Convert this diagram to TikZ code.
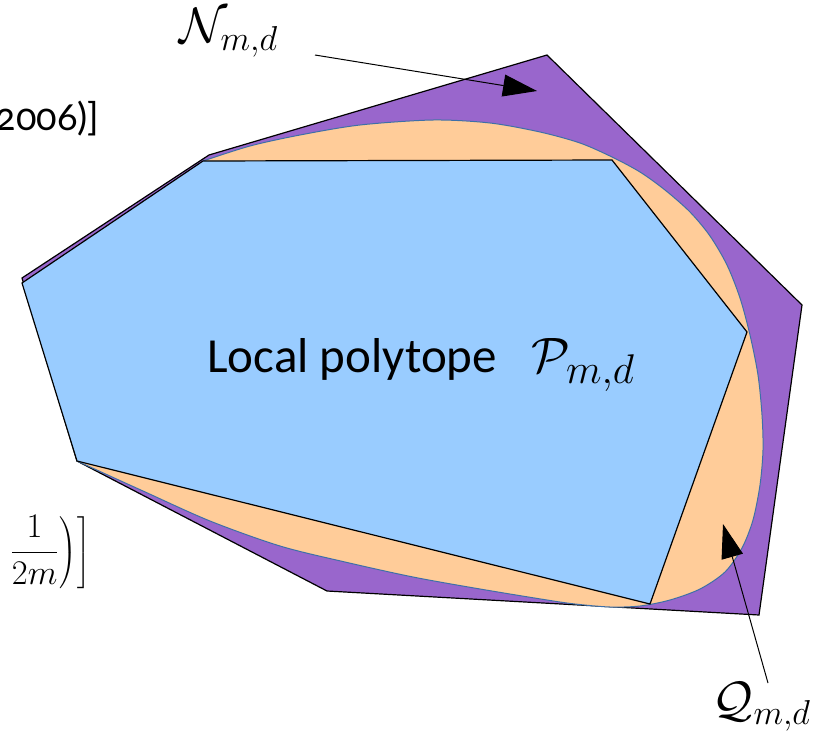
\documentclass[tikz,border=0pt]{standalone}
\usepackage[no-math]{fontspec}
\setmainfont{Carlito}
\newfontfamily\citefont[Numbers=OldStyle]{Lato}
\usetikzlibrary{arrows.meta}
\definecolor{outerFill}{HTML}{9966CC}
\definecolor{curveFill}{HTML}{FFCC99}
\definecolor{curveStroke}{HTML}{3E6FA8}
\definecolor{innerFill}{HTML}{99CCFF}

\begin{document}
\begin{tikzpicture}[
    x=0.5pt, y=-0.5pt,
    >={Triangle[length=17pt,width=11pt]},
    outerRegion/.style={fill=outerFill, draw=black, line width=0.6pt},
    curveRegion/.style={fill=curveFill, draw=curveStroke, line width=0.5pt},
    innerRegion/.style={fill=innerFill, draw=black, line width=0.6pt},
    setLabel/.style={inner sep=0pt, font=\fontsize{24}{28}\selectfont},
    mainLabel/.style={inner sep=0pt, font=\fontsize{24.5}{28}\selectfont},
    citeText/.style={inner sep=0pt, font=\fontsize{19}{23}\selectfont},
    pointer/.style={->, line width=0.5pt}
]
\useasboundingbox (0,0) rectangle (831,734);
\clip (0,0) rectangle (831,734);

% outer region, smooth set, local polytope
\draw[outerRegion] (547,55) -- (802,305) -- (759,615) -- (327,591)
  -- (77,461) -- (22,278) -- (209,155) -- cycle;
\draw[curveRegion] plot[smooth, tension=0.5] coordinates {
  (203,161) (250,146) (300,135) (360,125) (433,120) (490,123)
  (540,132) (580,143) (612,157) (640,172) (665,190) (690,212)
  (710,236) (727,265) (740,298) (750,335) (758,375) (762,415)
  (763,450) (760,485) (753,520) (742,548) (725,572) (700,589)
  (670,600) (640,606) (610,607) (575,604) (547,600) (480,589)
  (413,577) (345,562) (280,546) (210,521) (143,491) (77,461)} -- cycle;
\draw[innerRegion] (22,283) -- (203,161) -- (612,160) -- (747,332)
  -- (650,604) -- (77,461) -- cycle;

\node[mainLabel, anchor=base west] (PLabel) at (207,372)
  {Local polytope\hspace{0.7em}{\fontsize{29}{34}\selectfont$\mathcal{P}_{m,d}$}};
\node[setLabel] (NLabel) at (229,33) {$\mathcal{N}_{m,d}$};
\node[setLabel, font=\fontsize{26}{30}\selectfont] (QLabel) at (762,707) {$\mathcal{Q}_{m,d}$};
\node[citeText, anchor=base east] (CiteTop) at (100,130)
  {\citefont 2006)]};
\node[citeText, anchor=base east, font=\fontsize{18}{22}\selectfont] (CiteLow) at (91,561)
  {$\displaystyle\left.\left.\frac{1}{2m}\right)\right]$};

\coordinate (NTail) at (315,55);
\coordinate (NTip) at (537,91);
\coordinate (QTail) at (768,683);
\coordinate (QTip) at (723,524);
\draw[pointer] (NTail) -- (NTip);
\draw[pointer] (QTail) -- (QTip);

\end{tikzpicture}
\end{document}
